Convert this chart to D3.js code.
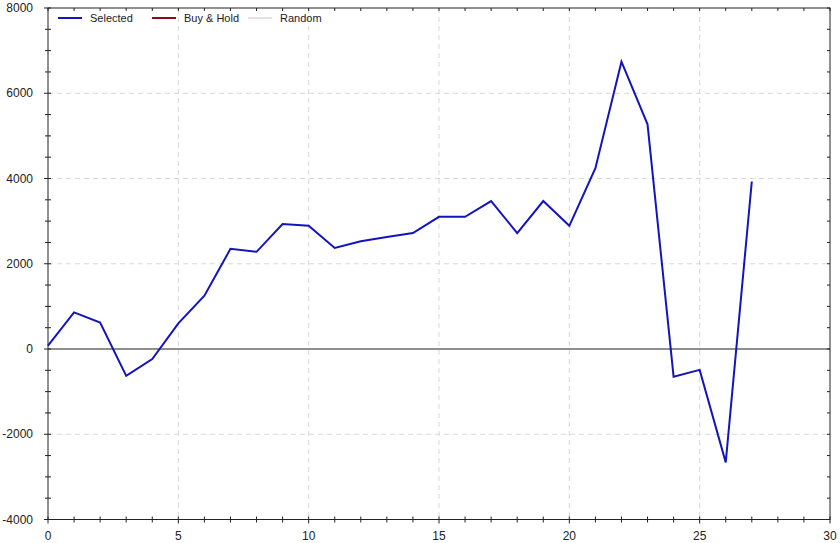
<!DOCTYPE html>
<html><head><meta charset="utf-8">
<script src="https://cdn.jsdelivr.net/npm/d3@7"></script>
<style>body{margin:0;background:#fff}svg{display:block}text{font-family:"Liberation Sans",Arial,sans-serif}</style>
</head><body><svg id="c" width="840" height="543"></svg>
<script>
const xValues = [0,1,2,3,4,5,6,7,8,9,10,11,12,13,14,15,16,17,18,19,20,21,22,23,24,25,26,27];
const selected = [80,860,620,-630,-235,600,1250,2350,2280,2930,2890,2370,2530,2630,2720,3100,3100,3470,2720,3470,2890,4240,6740,5270,-650,-490,-2660,3930];
const xTicks = [0,5,10,15,20,25,30];
const yTicks = [-4000,-2000,0,2000,4000,6000,8000];
const legendItems = ["Selected","Buy & Hold","Random"];
const legendColors = ["#1414bc","#8b0a1e","#e2e2e2"];

const svg = d3.select("#c");
const L=48,R=830,T=8,B=519.5;
const x = d3.scaleLinear().domain([0,30]).range([L,R]);
const y = d3.scaleLinear().domain([-4000,8000]).range([B,T]);

// grid
const g = svg.append("g");
g.selectAll(".gx").data(xTicks.filter(d=>d>0&&d<30)).join("line")
 .attr("x1",d=>x(d)).attr("x2",d=>x(d)).attr("y1",T).attr("y2",B)
 .attr("stroke","#d8d8d8").attr("stroke-dasharray","5,4");
g.selectAll(".gy").data(yTicks.filter(d=>d!==0&&d>-4000&&d<8000)).join("line")
 .attr("y1",d=>y(d)).attr("y2",d=>y(d)).attr("x1",L).attr("x2",R)
 .attr("stroke","#d8d8d8").attr("stroke-dasharray","5,4");
// zero line
svg.append("line").attr("x1",L).attr("x2",R).attr("y1",y(0)).attr("y2",y(0))
 .attr("stroke","#6a6a6a").attr("stroke-width",1.6);

// frame
svg.append("rect").attr("x",L).attr("y",T).attr("width",R-L).attr("height",B-T)
 .attr("fill","none").attr("stroke","#222").attr("stroke-width",1);

// axes ticks
const minorX = d3.range(0,31,1), minorY = d3.range(-4000,8001,500);
svg.selectAll(".tb").data(minorX).join("line")
 .attr("x1",d=>x(d)).attr("x2",d=>x(d)).attr("y1",B-3).attr("y2",d=>B+(d%5===0?4:3))
 .attr("stroke","#222");
svg.selectAll(".tt").data(minorX).join("line")
 .attr("x1",d=>x(d)).attr("x2",d=>x(d)).attr("y1",T).attr("y2",T+3)
 .attr("stroke","#222");
svg.selectAll(".tl").data(minorY).join("line")
 .attr("y1",d=>y(d)).attr("y2",d=>y(d)).attr("x1",d=>L-(d%2000===0?4:3)).attr("x2",L+3)
 .attr("stroke","#222");
svg.selectAll(".tr").data(minorY).join("line")
 .attr("y1",d=>y(d)).attr("y2",d=>y(d)).attr("x1",R-3).attr("x2",R)
 .attr("stroke","#222");

// labels
svg.selectAll(".lx").data(xTicks).join("text")
 .attr("x",d=>x(d)).attr("y",540).attr("text-anchor","middle")
 .attr("font-size",12).attr("fill","#222").text(d=>d);
svg.selectAll(".ly").data(yTicks).join("text")
 .attr("x",33).attr("y",d=>y(d)+4).attr("text-anchor","end")
 .attr("font-size",12).attr("fill","#222").text(d=>d);

// line
svg.append("path").datum(xValues.map((d,i)=>[d,selected[i]]))
 .attr("d",d3.line().x(d=>x(d[0])).y(d=>y(d[1])))
 .attr("fill","none").attr("stroke",legendColors[0]).attr("stroke-width",2).attr("stroke-linejoin","miter");

// legend
const lx=[58,152,248];
const lg = svg.selectAll(".lg").data(legendItems).join("g");
lg.append("line").attr("x1",(d,i)=>lx[i]).attr("x2",(d,i)=>lx[i]+24).attr("y1",18).attr("y2",18)
 .attr("stroke",(d,i)=>legendColors[i]).attr("stroke-width",2);
lg.append("text").attr("x",(d,i)=>lx[i]+32).attr("y",22).attr("font-size",11).attr("fill","#222").text(d=>d);
</script></body></html>
